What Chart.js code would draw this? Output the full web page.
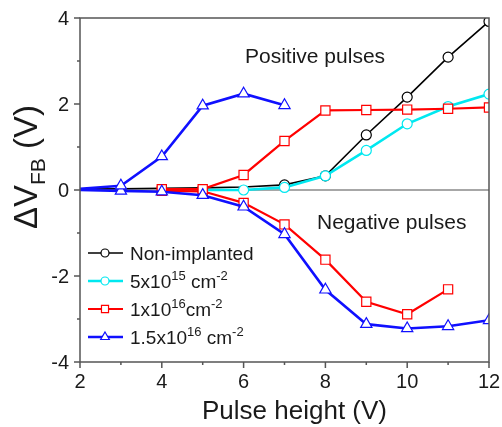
<!DOCTYPE html>
<html>
<head>
<meta charset="utf-8">
<script src="https://cdn.jsdelivr.net/npm/chart.js@4"></script>
<style>
  html, body { margin: 0; padding: 0; background: #fff; }
</style>
</head>
<body>
<canvas id="myChart" width="502" height="427"></canvas>
<script>
// Flat-band voltage shift vs pulse height
const pulseHeight = [2, 3, 4, 5, 6, 7, 8, 9, 10, 11, 12];

const nonImplantedPos = [0.02, 0.03, 0.04, 0.05, 0.07, 0.12, 0.33, 1.28, 2.16, 3.09, 3.92];
const dose5e15Pos     = [null, null, null, 0.0, 0.0, 0.06, 0.33, 0.92, 1.54, 1.94, 2.23];
const dose1e16Pos     = [null, null, 0.02, 0.02, 0.35, 1.14, 1.85, 1.86, 1.87, 1.89, 1.92];
const dose1e16Neg     = [null, null, -0.02, -0.03, -0.30, -0.80, -1.62, -2.60, -2.89, -2.31, null];
const dose15e16Pos    = [0.03, 0.10, 0.78, 1.96, 2.24, 1.97, null, null, null, null, null];
const dose15e16Neg    = [0.0, -0.02, -0.04, -0.12, -0.39, -1.03, -2.32, -3.12, -3.22, -3.17, -3.03];

const xTicks = [2, 4, 6, 8, 10, 12];
const yTicks = [-4, -2, 0, 2, 4];

// legend text: [text, 'sup'] pieces
const legendNames = [
    [['Non-implanted']],
    [['5x10'], ['15', 'sup'], [' cm'], ['-2', 'sup']],
    [['1x10'], ['16', 'sup'], ['cm'], ['-2', 'sup']],
    [['1.5x10'], ['16', 'sup'], [' cm'], ['-2', 'sup']]
];

const FONT = "'Liberation Sans', Arial, sans-serif";

function toPoints(vals) {
    return pulseHeight
        .map((x, i) => ({ x: x, y: vals[i] }))
        .filter(p => p.y !== null);
}

const styles = [
    { color: '#000000', width: 1.6, point: 'circle', r: 5, from: 7 },
    { color: '#00e8f0', width: 2.6, point: 'circle', r: 5, from: 6 },
    { color: '#ff0000', width: 2.2, point: 'rect', r: 6.5, from: 4 },
    { color: '#1010ff', width: 2.6, point: 'triangle', r: 6.5, from: 3 }
];

function makeSet(vals, s, order) {
    return {
        data: toPoints(vals),
        borderColor: s.color,
        borderWidth: s.width,
        backgroundColor: '#ffffff',
        pointBackgroundColor: '#ffffff',
        pointBorderColor: s.color,
        pointBorderWidth: 1.2,
        pointStyle: s.point,
        pointRadius: ctx => (ctx.raw && ctx.raw.x < s.from) ? 0 : s.r,
        tension: 0,
        fill: false,
        clip: 0,
        order: order
    };
}

function drawRich(ctx, x, y, parts, size, supSize, supRise) {
    for (const [t, kind] of parts) {
        const sup = kind === 'sup';
        ctx.font = (sup ? supSize : size) + 'px ' + FONT;
        ctx.fillText(t, x, sup ? y - supRise : y);
        x += ctx.measureText(t).width;
    }
    return x;
}

function richWidth(ctx, parts, size, small) {
    let w = 0;
    for (const [t, kind] of parts) {
        ctx.font = (kind ? small : size) + 'px ' + FONT;
        w += ctx.measureText(t).width;
    }
    return w;
}

const decorPlugin = {
    id: 'decor',
    beforeDatasetsDraw(chart) {
        const { ctx, chartArea: a, scales } = chart;
        const y0 = scales.y.getPixelForValue(0);
        ctx.save();
        ctx.strokeStyle = '#8a8a8a';
        ctx.lineWidth = 1.5;
        ctx.beginPath();
        ctx.moveTo(a.left, y0);
        ctx.lineTo(a.right, y0);
        ctx.stroke();
        ctx.restore();
    },
    afterDatasetsDraw(chart) {
        const { ctx, chartArea: a, scales } = chart;
        const xs = scales.x, ys = scales.y;
        ctx.save();

        // frame
        ctx.strokeStyle = '#555555';
        ctx.lineWidth = 1.5;
        ctx.strokeRect(a.left, a.top, a.right - a.left, a.bottom - a.top);

        // ticks
        ctx.beginPath();
        for (let v = 2; v <= 12; v++) {
            const px = xs.getPixelForValue(v);
            const len = v % 2 === 0 ? 6 : 3;
            ctx.moveTo(px, a.bottom);
            ctx.lineTo(px, a.bottom + len);
        }
        for (let v = -4; v <= 4; v++) {
            const py = ys.getPixelForValue(v);
            const len = v % 2 === 0 ? 6 : 3;
            ctx.moveTo(a.left, py);
            ctx.lineTo(a.left - len, py);
        }
        ctx.stroke();

        // tick labels
        ctx.fillStyle = '#1a1a1a';
        ctx.font = '20px ' + FONT;
        ctx.textAlign = 'center';
        ctx.textBaseline = 'alphabetic';
        xTicks.forEach(v => ctx.fillText(String(v), xs.getPixelForValue(v), a.bottom + 26));
        ctx.textAlign = 'right';
        ctx.textBaseline = 'middle';
        yTicks.forEach(v => ctx.fillText(String(v), a.left - 11, ys.getPixelForValue(v) + 1));

        // x title
        ctx.textAlign = 'center';
        ctx.textBaseline = 'alphabetic';
        ctx.font = '26px ' + FONT;
        ctx.fillText('Pulse height (V)', (a.left + a.right) / 2 + 10, 419);

        // y title, rotated, with subscript
        ctx.save();
        ctx.translate(37, 0);
        ctx.rotate(-Math.PI / 2);
        ctx.textAlign = 'left';
        const yParts = [['\u0394V', 33, 0], ['FB', 21, 8], [' (V)', 33, 0]];
        let total = 0;
        yParts.forEach(([t, s]) => { ctx.font = s + 'px ' + FONT; total += ctx.measureText(t).width; });
        let tx = -167 - total / 2;
        yParts.forEach(([t, s, dy]) => {
            ctx.font = s + 'px ' + FONT;
            ctx.fillText(t, tx, dy);
            tx += ctx.measureText(t).width;
        });
        ctx.restore();

        // annotations
        ctx.textAlign = 'left';
        ctx.font = '21px ' + FONT;
        ctx.fillText('Positive pulses', 245, 63);
        ctx.fillText('Negative pulses', 317, 229);

        // legend
        const rowY = [253, 281, 309, 337];
        legendNames.forEach((parts, i) => {
            const s = styles[i];
            const cy = rowY[i];
            ctx.strokeStyle = s.color;
            ctx.lineWidth = s.width;
            ctx.beginPath();
            ctx.moveTo(88, cy);
            ctx.lineTo(123, cy);
            ctx.stroke();
            ctx.fillStyle = '#ffffff';
            ctx.strokeStyle = s.color;
            ctx.lineWidth = 1.2;
            Chart.helpers.drawPoint(ctx, {
                pointStyle: s.point, radius: s.point === 'circle' ? 4 : 5, rotation: 0, borderWidth: 1.2
            }, 105, cy);
            ctx.fillStyle = '#1a1a1a';
            ctx.textBaseline = 'alphabetic';
            drawRich(ctx, 130, cy + 7, parts, 19, 13, 8);
        });

        ctx.restore();
    }
};

const ctx = document.getElementById('myChart').getContext('2d');
const myChart = new Chart(ctx, {
    type: 'line',
    data: {
        datasets: [
            makeSet(nonImplantedPos, styles[0], 4),
            makeSet(dose5e15Pos, styles[1], 3),
            makeSet(dose1e16Pos, styles[2], 2),
            makeSet(dose1e16Neg, styles[2], 2),
            makeSet(dose15e16Pos, styles[3], 1),
            makeSet(dose15e16Neg, styles[3], 1)
        ]
    },
    options: {
        responsive: false,
        animation: false,
        devicePixelRatio: 1,
        layout: {
            autoPadding: false,
            padding: { left: 80, top: 18, right: 13, bottom: 65 }
        },
        plugins: {
            legend: { display: false },
            tooltip: { enabled: false }
        },
        scales: {
            x: { type: 'linear', min: 2, max: 12, display: false },
            y: { type: 'linear', min: -4, max: 4, display: false }
        }
    },
    plugins: [decorPlugin]
});
</script>
</body>
</html>
